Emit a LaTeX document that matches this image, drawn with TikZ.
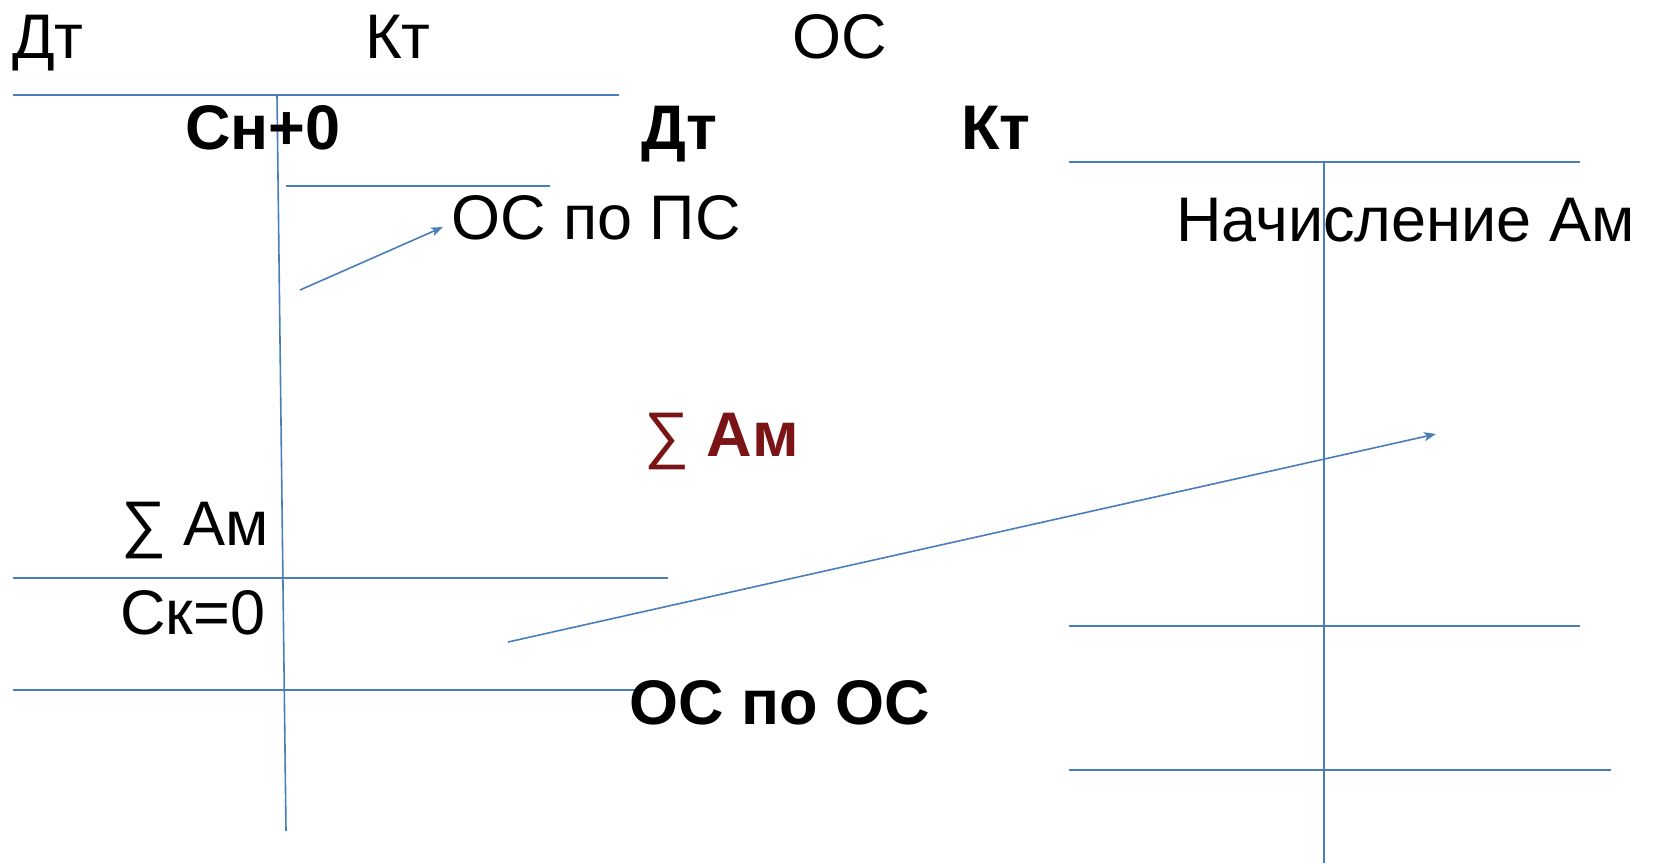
\documentclass[tikz,border=0pt]{standalone}
\usepackage{fontspec}
\setmainfont{Liberation Sans}
\usetikzlibrary{arrows.meta}
\definecolor{lineblue}{RGB}{74,126,187}
\definecolor{sumred}{RGB}{122,20,22}
\begin{document}
\begin{tikzpicture}[x=1pt,y=-1pt,
  txt/.style={inner sep=0pt, anchor=base west, font=\fontsize{63}{63}\selectfont},
  btxt/.style={inner sep=0pt, anchor=base west, font=\fontsize{63}{63}\selectfont\bfseries},
  ln/.style={draw=lineblue, line width=1.6pt},
  arr/.style={ln, -{Stealth[length=12pt,width=9pt,inset=3pt]}}]
\useasboundingbox (0,0) rectangle (1659,863);
% left T-account lines
\coordinate (l1a) at (13,95);   \coordinate (l1b) at (619,95);
\coordinate (lva) at (277,95);  \coordinate (lvb) at (286,831);
\coordinate (l2a) at (286,186); \coordinate (l2b) at (550,186);
\coordinate (l3a) at (13,578);  \coordinate (l3b) at (668,578);
\coordinate (l4a) at (13,690);  \coordinate (l4b) at (645,690);
\draw[ln] (l1a) -- (l1b);
\draw[ln] (lva) -- (lvb);
\draw[ln] (l2a) -- (l2b);
\draw[ln] (l3a) -- (l3b);
\draw[ln] (l4a) -- (l4b);
% right T-account lines
\coordinate (r1a) at (1069,162); \coordinate (r1b) at (1580,162);
\coordinate (rva) at (1324,162); \coordinate (rvb) at (1324,863);
\coordinate (r2a) at (1069,626); \coordinate (r2b) at (1580,626);
\coordinate (r3a) at (1069,770); \coordinate (r3b) at (1611,770);
\draw[ln] (r1a) -- (r1b);
\draw[ln] (rva) -- (rvb);
\draw[ln] (r2a) -- (r2b);
\draw[ln] (r3a) -- (r3b);
% texts
\node[txt] (dt1) at (12,58) {Дт};
\node[txt] (kt1) at (365,58) {Кт};
\node[txt] (os1) at (792,58) {ОС};
\node[btxt] (sn) at (185,149) {Сн+0};
\node[btxt] (dt2) at (641,149) {Дт};
\node[btxt] (kt2) at (961,149) {Кт};
\node[txt] (ospс) at (451,239) {ОС по ПС};
\node[txt] (nach) at (1176,241) {Начисление Ам};
\node[inner sep=0pt, anchor=base west, text=sumred, font=\fontsize{63}{63}\selectfont] (sumr) at (644,456) {∑ \textbf{Ам}};
\node[txt] (suml) at (121,545) {∑ Ам};
\node[txt] (sk) at (120,634) {Ск=0};
\node[btxt] (osos) at (629,724) {ОС по ОС};
% arrows
\coordinate (a1s) at (300,290); \coordinate (a1e) at (443,227);
\coordinate (a2s) at (508,642); \coordinate (a2e) at (1436,434);
\draw[arr] (a1s) -- (a1e);
\draw[arr] (a2s) -- (a2e);
\end{tikzpicture}
\end{document}
